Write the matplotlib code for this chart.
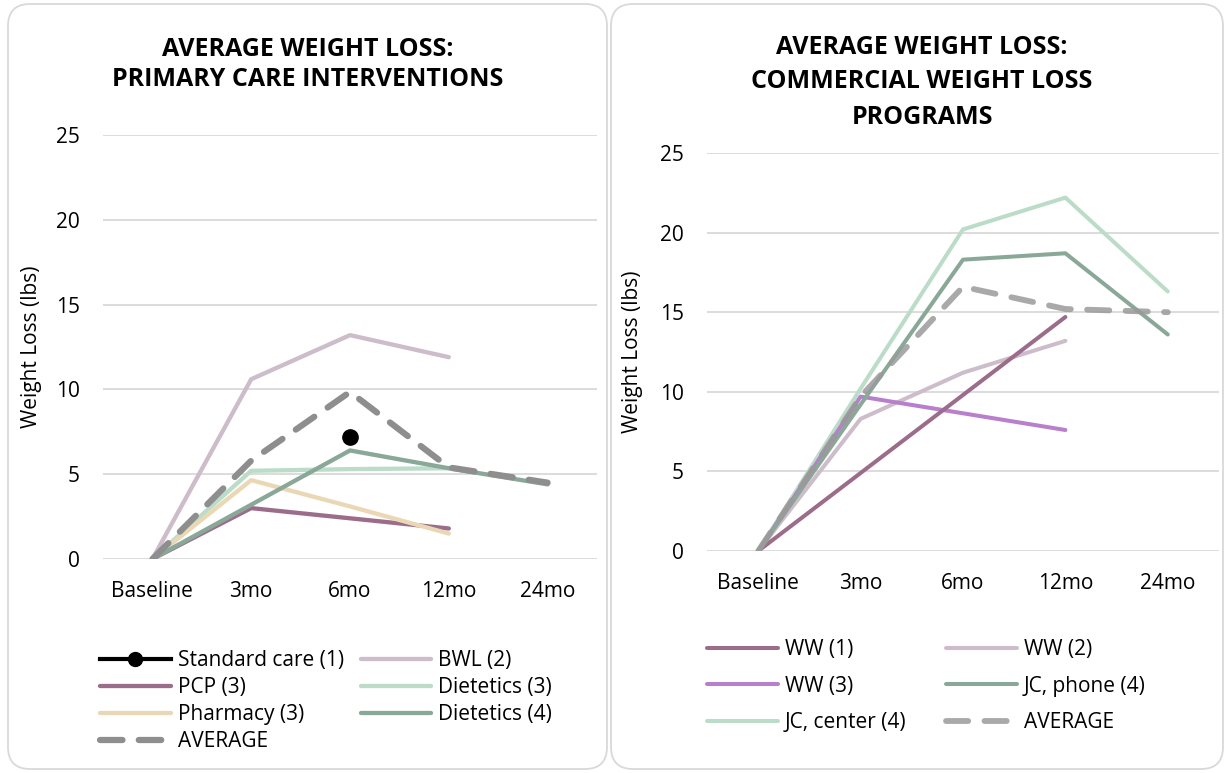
import numpy as np
import matplotlib.pyplot as plt
from matplotlib.patches import FancyBboxPatch
from matplotlib.lines import Line2D

plt.rcParams['font.family'] = ['Open Sans', 'DejaVu Sans']

months = ['Baseline', '3mo', '6mo', '12mo', '24mo']
yticks = [0, 5, 10, 15, 20, 25]
nan = np.nan

# primary care (lbs lost)
standard_care = [nan, nan, 7.2, nan, nan]
bwl = [0, 10.6, 13.2, 11.9, nan]
pcp = [0, 3.0, 2.4, 1.8, nan]
pharmacy = [0, 4.65, 3.1, 1.5, nan]
dietetics3 = [0, 5.2, 5.3, 5.35, nan]
dietetics4 = [0, 3.2, 6.4, 5.35, 4.4]
pc_average = [0, 5.8, 9.85, 5.4, 4.5]

# commercial programs (lbs lost)
ww1 = [0, 4.9, 9.8, 14.7, nan]
ww2 = [0, 8.3, 11.2, 13.2, nan]
ww3 = [0, 9.7, 8.65, 7.6, nan]
jc_phone = [0, 9.2, 18.3, 18.7, 13.6]
jc_center = [0, 10.2, 20.2, 22.2, 16.3]
cw_average = [0, 9.7, 16.6, 15.2, 15.0]

mauve = '#9c6d8b'
lilac = '#cdbcc9'
purple = '#b87fcc'
sage = '#8aa898'
mint = '#bcdcca'
sand = '#ead8b5'
grey_l = '#8e8e8e'
grey_r = '#9a9a9a'
border = '#d9d9d9'
fs = 15

W, H = 1227, 773
fig = plt.figure(figsize=(W / 100, H / 100), dpi=100, facecolor='white')

# background panels
bg = fig.add_axes([0, 0, 1, 1])
bg.set_xlim(0, W)
bg.set_ylim(0, H)
bg.axis('off')
for x0, x1 in [(8, 607), (611, 1223)]:
    bg.add_patch(FancyBboxPatch((x0 + 22, 4 + 22), x1 - x0 - 44, H - 8 - 44,
                                boxstyle='round,pad=22', fc='white', ec=border, lw=1.3))


def px_axes(x0, y_top, x1, y_bot):
    return fig.add_axes([x0 / W, (H - y_bot) / H, (x1 - x0) / W, (y_bot - y_top) / H])


def style(ax, labelpad):
    ax.set_xlim(-0.5, 4.5)
    ax.set_ylim(0, 25)
    ax.set_yticks(yticks)
    ax.set_xticks(range(len(months)))
    ax.set_xticklabels(months)
    ax.grid(axis='y', color='#d9d9d9', lw=1.3)
    ax.set_axisbelow(True)
    for s in ax.spines.values():
        s.set_visible(False)
    ax.tick_params(length=0, labelsize=fs, colors='black')
    ax.tick_params(axis='y', pad=16.5)
    ax.tick_params(axis='x', pad=16)
    ax.set_ylabel('Weight Loss (lbs)', fontsize=fs, labelpad=labelpad)
    ax.patch.set_alpha(0)


def title(xc, lines, ys):
    for line, y in zip(lines, ys):
        fig.text(xc / W, 1 - y / H, line, ha='center', va='center',
                 fontsize=18, fontweight='bold')


x = np.arange(len(months))

# ---- left: primary care ----
ax1 = px_axes(103, 135, 597, 559)
style(ax1, 10)
kw = dict(lw=3.1, solid_capstyle='round')
ax1.plot(x, bwl, color=lilac, **kw)
ax1.plot(x, pcp, color=mauve, **kw)
ax1.plot(x, dietetics3, color=mint, **kw)
ax1.plot(x, pharmacy, color=sand, **kw)
ax1.plot(x, dietetics4, color=sage, **kw)
ax1.plot(x, pc_average, color=grey_l, lw=4.5, ls=(0, (3.6, 2.6)), dash_capstyle='round')
ax1.plot(x, standard_care, color='black', marker='o', ms=11, ls='none')
title(308, ['AVERAGE WEIGHT LOSS:', 'PRIMARY CARE INTERVENTIONS'], [49, 79])

h_std = Line2D([], [], color='black', lw=3, marker='o', ms=10)
h_bwl = Line2D([], [], color=lilac, **kw)
h_pcp = Line2D([], [], color=mauve, **kw)
h_d3 = Line2D([], [], color=mint, **kw)
h_ph = Line2D([], [], color=sand, **kw)
h_d4 = Line2D([], [], color=sage, **kw)
h_avg = Line2D([], [], color=grey_l, lw=4.5, ls=(0, (3.6, 2.6)), dash_capstyle='round')
fig.legend([h_std, h_pcp, h_ph, h_avg, h_bwl, h_d3, h_d4],
           ['Standard care (1)', 'PCP (3)', 'Pharmacy (3)', 'AVERAGE',
            'BWL (2)', 'Dietetics (3)', 'Dietetics (4)'],
           ncol=2, loc='upper left', bbox_to_anchor=(100 / W, 1 - 650 / H),
           frameon=False, fontsize=fs, handlelength=3.4, handletextpad=0.33,
           columnspacing=0.8, labelspacing=0.29, borderaxespad=0, borderpad=0)

# ---- right: commercial programs ----
ax2 = px_axes(707, 153, 1219, 551)
style(ax2, 12)
kw2 = dict(lw=2.9, solid_capstyle='round')
ax2.plot(x, jc_center, color=mint, **kw2)
ax2.plot(x, ww2, color=lilac, **kw2)
ax2.plot(x, ww3, color=purple, **kw2)
ax2.plot(x, ww1, color=mauve, **kw2)
ax2.plot(x, jc_phone, color=sage, **kw2)
ax2.plot(x, cw_average, color=grey_r, lw=4.2, alpha=0.85, ls=(0, (3.8, 2.8)), dash_capstyle='round')
title(922, ['AVERAGE WEIGHT LOSS:', 'COMMERCIAL WEIGHT LOSS', 'PROGRAMS'], [47, 82, 117])

g_ww1 = Line2D([], [], color=mauve, **kw2)
g_ww2 = Line2D([], [], color=lilac, **kw2)
g_ww3 = Line2D([], [], color=purple, **kw2)
g_jp = Line2D([], [], color=sage, **kw2)
g_jc = Line2D([], [], color=mint, **kw2)
g_avg = Line2D([], [], color=grey_r, lw=4.2, alpha=0.85, ls=(0, (3.8, 2.8)), dash_capstyle='round')
fig.legend([g_ww1, g_ww3, g_jc, g_ww2, g_jp, g_avg],
           ['WW (1)', 'WW (3)', 'JC, center (4)', 'WW (2)', 'JC, phone (4)', 'AVERAGE'],
           ncol=2, loc='upper left', bbox_to_anchor=(707 / W, 1 - 639 / H),
           frameon=False, fontsize=fs, handlelength=3.4, handletextpad=0.33,
           columnspacing=1.9, labelspacing=0.75, borderaxespad=0, borderpad=0)

fig.savefig('out.png', dpi=100, facecolor='white')
